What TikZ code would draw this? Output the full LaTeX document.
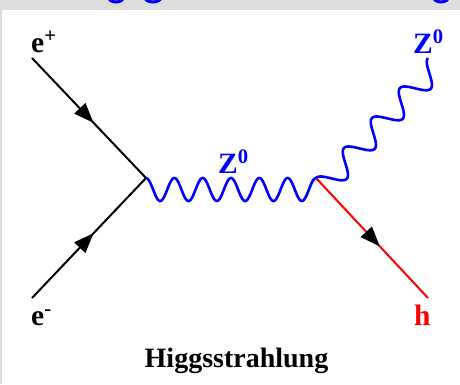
\documentclass[tikz,border=0pt]{standalone}
\usepackage{fontspec}
\setmainfont{Liberation Serif}
\usetikzlibrary{arrows.meta,decorations.markings}
\definecolor{zblue}{RGB}{0,0,255}
\definecolor{hred}{RGB}{255,0,0}
\definecolor{framegrey}{RGB}{221,221,221}
\begin{document}
\begin{tikzpicture}[x=1pt, y=-1pt,
  fermion/.style={line width=2pt, postaction={decorate}, decoration={markings, mark=at position #1 with {\arrow[black]{Triangle[length=20pt,width=15pt]}}}},
  boson/.style={zblue, line width=2.6pt, line join=round},
  lbl/.style={anchor=base west, inner sep=0pt, font=\fontsize{29.5}{31}\selectfont\bfseries}]
\fill[framegrey](0,0)rectangle(460,384);
\fill[white](2,10)rectangle(460,384);
\begin{scope}
\clip(2,0)rectangle(460,10);
\draw[zblue, line width=3pt](116,-4)ellipse(8 and 6)(153,-4)ellipse(9 and 6)(441,-4)ellipse(8 and 6);
\end{scope}

\coordinate (v1) at (146,178);
\coordinate (v2) at (316,178);
\coordinate (ep) at (32,58);
\coordinate (em) at (32,298);
\coordinate (zout) at (428,58);
\coordinate (hout) at (428,298);

\draw[fermion=.54](ep)--(v1);
\draw[fermion=.54](em)--(v1);
\draw[fermion=.57, hred](v2)--(hout);
% Z0 lines: v1 to v2, v2 to zout
\draw[boson, shift={(v1)}]plot[domain=0:1, samples=241]({170*\x},{11.5*(1-cos(6*360*\x))});
\draw[boson, shift={(v2)}]plot[domain=0:1, samples=241]({112*\x+8.37*(1-cos(4*360*\x))},{-120*\x+7.89*(1-cos(4*360*\x))});

\node[lbl](lep) at (31,52){e\textsuperscript{+}};
\node[lbl](lem) at (31,325){e\textsuperscript{-}};
\node[lbl, zblue](lz) at (218,173){Z\textsuperscript{0}};
\node[lbl, zblue](lzout) at (413,53){Z\textsuperscript{0}};
\node[lbl, hred](lh) at (414,325){h};
\node[lbl, anchor=base, font=\fontsize{28}{30}\selectfont\bfseries](title) at (236.5,367){Higgsstrahlung};
\end{tikzpicture}
\end{document}
